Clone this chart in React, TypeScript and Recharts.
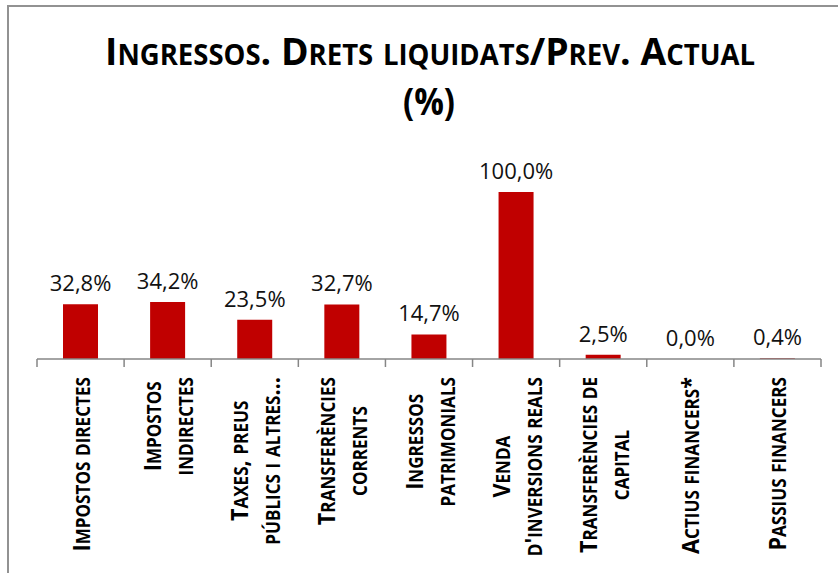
import { ComposedChart, Bar, Line, XAxis, YAxis, LabelList } from "recharts";

const categories = [
  "Impostos directes",
  "Impostos\nindirectes",
  "Taxes, preus\npúblics i altres…",
  "Transferències\ncorrents",
  "Ingressos\npatrimonials",
  "Venda\nd'inversions reals",
  "Transferències de\ncapital",
  "Actius financers*",
  "Passius financers",
];
const values = [32.8, 34.2, 23.5, 32.7, 14.7, 100.0, 2.5, 0.0, 0.4];
const titleLines = ["Ingressos. Drets liquidats/Prev. Actual", "(%)"];

const data = categories.map((name, i) => ({ name, value: values[i] }));

const FONT = '"Open Sans", sans-serif';
const W = 838;
const H = 573;
const PLOT_LEFT = 37;
const PLOT_RIGHT = 821;
const AXIS_Y = 359;
const TOP_Y = 192;
const LABEL_SX = 0.9;

let ctx: CanvasRenderingContext2D | null = null;
function measure(s: string, size: number, weight: number) {
  if (!ctx) ctx = document.createElement("canvas").getContext("2d");
  if (!ctx) return s.length * size * 0.6;
  ctx.font = `${weight} ${size}px ${FONT}`;
  return ctx.measureText(s).width;
}

// split text into runs: lowercase letters become small caps, the rest stays full size
function runs(text: string) {
  const out: { t: string; small: boolean }[] = [];
  for (const ch of text) {
    const small = ch !== ch.toUpperCase();
    const last = out[out.length - 1];
    if (last && last.small === small) last.t += ch;
    else out.push({ t: ch, small });
  }
  return out.map((r) => ({ t: r.small ? r.t.toUpperCase() : r.t, small: r.small }));
}

function capsWidth(text: string, big: number, small: number, weight: number) {
  return runs(text).reduce((sum, r) => sum + measure(r.t, r.small ? small : big, weight), 0);
}

function SmallCaps({ text, big, small }: { text: string; big: number; small: number }) {
  return (
    <>
      {runs(text).map((r, i) => (
        <tspan key={i} fontSize={r.small ? small : big}>
          {r.t}
        </tspan>
      ))}
    </>
  );
}

function CategoryTick(props: any) {
  const { x, y, payload, index } = props;
  const step = (PLOT_RIGHT - PLOT_LEFT) / categories.length;
  const lines = String(payload.value).split("\n");
  const widths = lines.map((l) => capsWidth(l, 24, 19, 700) * LABEL_SX);
  const maxW = Math.max(...widths);
  const cy = y + 18 + maxW / 2;
  const offsets = lines.length === 1 ? [9] : [-6.5, 25.5];
  return (
    <g>
      <line x1={x - step / 2} x2={x - step / 2} y1={y} y2={y + 8} stroke="#868686" strokeWidth={1.5} />
      {index === categories.length - 1 && (
        <line x1={x + step / 2} x2={x + step / 2} y1={y} y2={y + 8} stroke="#868686" strokeWidth={1.5} />
      )}
      {lines.map((l, i) => (
        <text
          key={i}
          transform={`translate(${x + offsets[i]},${cy}) rotate(-90) scale(${LABEL_SX},1)`}
          textAnchor="middle"
          fontFamily={FONT}
          fontWeight={700}
          fill="#000"
        >
          <SmallCaps text={l} big={24} small={19} />
        </text>
      ))}
    </g>
  );
}

function Title() {
  const w1 = capsWidth(titleLines[0], 38, 28, 700);
  const w2 = measure(titleLines[1], 38, 700);
  return (
    <svg width={W} height={140} style={{ position: "absolute", left: 0, top: 0 }}>
      <text
        transform={`translate(430,65) scale(${650 / w1},1)`}
        textAnchor="middle"
        fontFamily={FONT}
        fontWeight={700}
        fill="#000"
      >
        <SmallCaps text={titleLines[0]} big={38} small={28} />
      </text>
      <text
        transform={`translate(429,115) scale(${52 / w2},1)`}
        textAnchor="middle"
        fontFamily={FONT}
        fontWeight={700}
        fontSize={38}
        fill="#000"
      >
        {titleLines[1]}
      </text>
    </svg>
  );
}

const fmt = (v: any) => `${Number(v).toFixed(1).replace(".", ",")}%`;

export default function App() {
  return (
    <div
      style={{
        position: "absolute",
        left: 0,
        top: 0,
        width: W,
        height: H,
        overflow: "hidden",
        background: "#fff",
      }}
    >
      <div
        style={{
          position: "absolute",
          left: 7,
          top: 5,
          width: 900,
          height: 700,
          borderLeft: "2px solid #929292",
          borderTop: "2px solid #929292",
        }}
      />
      <Title />
      <div style={{ position: "absolute", left: 0, top: 0 }}>
        <ComposedChart
          width={W}
          height={H}
          data={data}
          margin={{ top: TOP_Y, right: W - PLOT_RIGHT, left: PLOT_LEFT, bottom: 0 }}
        >
          <YAxis hide domain={[0, 100]} />
          <XAxis
            dataKey="name"
            height={H - AXIS_Y}
            interval={0}
            tickLine={false}
            tickSize={0}
            tickMargin={0}
            axisLine={{ stroke: "#868686", strokeWidth: 1.5 }}
            tick={(p: any) => <CategoryTick {...p} />}
          />
          <Bar dataKey="value" fill="#C00000" barSize={35} isAnimationActive={false} />
          {/* invisible line carrying the data labels so the 0,0% label is drawn too */}
          <Line
            dataKey="value"
            stroke="none"
            dot={false}
            activeDot={false}
            legendType="none"
            isAnimationActive={false}
          >
            <LabelList
              dataKey="value"
              position="top"
              offset={13}
              fill="#111"
              fontSize={22}
              fontFamily={FONT}
              formatter={fmt}
            />
          </Line>
        </ComposedChart>
      </div>
    </div>
  );
}
